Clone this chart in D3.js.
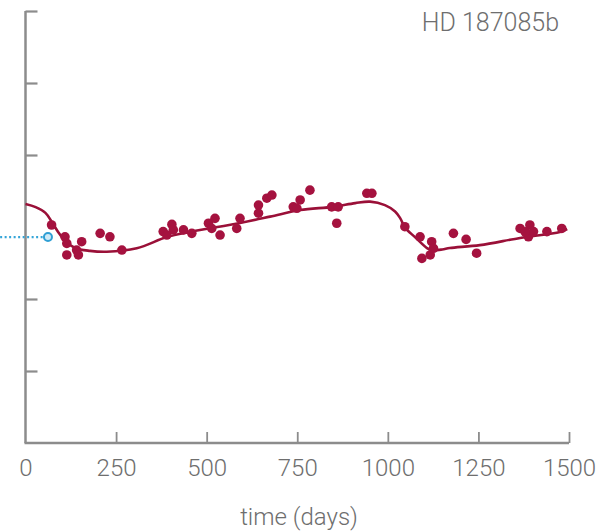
<!DOCTYPE html>
<html>
<head>
<meta charset="utf-8">
<script src="https://cdn.jsdelivr.net/npm/d3@7"></script>
<style>
  html, body { margin: 0; padding: 0; background: #fff; }
  svg { display: block; }
  text { font-family: Roboto, "Liberation Sans", Arial, sans-serif; font-weight: 300; fill: #6e6e6e; }
</style>
</head>
<body>
<svg id="chart" width="609" height="532"></svg>
<script>
// ---- data ----
const title = "HD 187085b";
const xLabel = "time (days)";
const xTicks = [0, 250, 500, 750, 1000, 1250, 1500];
const yTicks = [75, 50, 25, -25, -50];

// observed radial velocity points: day, velocity
const obsDays = [72,109,114,114,141,155,146,206,233,266,380,404,408,390,436,459,505,523,514,537,583,592,643,643,666,680,739,758,749,785,845,863,859,942,956,1047,1089,1121,1126,1094,1117,1181,1216,1245,1365,1392,1388,1402,1379,1439,1480];
const obsVel  = [0.7,-3.4,-5.7,-9.7,-8.0,-5.1,-9.7,-2.2,-3.4,-8.0,-1.6,0.9,-1.0,-2.8,-1.0,-2.2,1.3,3.0,-0.5,-2.8,-0.5,3.0,4.8,7.6,10.0,11.1,7.0,9.4,6.5,12.8,7.0,7.0,1.3,11.7,11.7,0.1,-3.4,-5.1,-7.4,-10.9,-9.7,-2.2,-4.3,-9.1,-0.5,0.7,-3.4,-1.6,-1.7,-1.6,-0.5];

// fitted orbit curve
const fitDays = [0,28,55,73,90,110,137,178,224,307,390,454,592,675,758,849,910,951,992,1020,1034,1048,1075,1108,1122,1150,1171,1254,1365,1475,1495];
const fitVel  = [8.0,6.9,4.9,1.7,-1.7,-4.9,-7.3,-8.3,-8.6,-7.4,-3.5,-1.7,1.4,3.6,5.9,7.0,8.3,8.8,7.6,5.4,3.1,-0.3,-3.5,-7.3,-8.0,-7.8,-7.3,-6.3,-3.8,-1.7,-0.7];

// marker for the starting point (cyan)
const markDays = [-70, 62];
const markVel = [-3.5, -3.5];

// ---- drawing ----
const svg = d3.select("#chart");
const x = d3.scaleLinear().domain([0, 1500]).range([25.5, 569]);
const y = d3.scaleLinear().domain([-75, 75]).range([443, 11]);

const axisColor = "#8c8c8c";

// left axis
const gy = svg.append("g").attr("transform", `translate(${x(0)},0)`)
  .call(d3.axisLeft(y).tickValues(yTicks).tickSizeInner(-12).tickSizeOuter(0).tickFormat(""));
gy.select(".domain").remove();
gy.selectAll(".tick line").attr("stroke", axisColor).attr("stroke-width", 2.2);
svg.append("line").attr("x1", x(0)).attr("x2", x(0)).attr("y1", y(75)).attr("y2", y(-75))
  .attr("stroke", axisColor).attr("stroke-width", 2.5);

// bottom axis
const gx = svg.append("g").attr("transform", `translate(0,${y(-75)})`)
  .call(d3.axisBottom(x).tickValues(xTicks).tickSizeInner(-11).tickSizeOuter(0).tickPadding(16).tickFormat(d3.format("d")));
gx.select(".domain").remove();
gx.selectAll(".tick line").attr("stroke", axisColor).attr("stroke-width", 1.8)
  .filter(d => d === 0).remove();
gx.selectAll(".tick text").attr("font-size", 24)
  .attr("font-family", "Roboto, Liberation Sans, Arial, sans-serif").attr("font-weight", 300).attr("fill", "#6e6e6e");
svg.append("line").attr("x1", x(0) - 1).attr("x2", x(1500)).attr("y1", y(-75)).attr("y2", y(-75))
  .attr("stroke", axisColor).attr("stroke-width", 2.5);

// fitted curve
const line = d3.line().x((d, i) => x(fitDays[i])).y((d, i) => y(fitVel[i])).curve(d3.curveCatmullRom.alpha(0.5));
svg.append("path").datum(fitDays).attr("d", line)
  .attr("fill", "none").attr("stroke", "#9a1038").attr("stroke-width", 2.6);

// cyan marker
svg.append("line")
  .attr("x1", x(markDays[0])).attr("x2", x(markDays[1]) - 4)
  .attr("y1", y(markVel[0])).attr("y2", y(markVel[1]))
  .attr("stroke", "#35a5d8").attr("stroke-width", 2.2).attr("stroke-dasharray", "2,2.5");
svg.append("circle").attr("cx", x(markDays[1])).attr("cy", y(markVel[1])).attr("r", 4)
  .attr("fill", "#cfeaf7").attr("stroke", "#2f9fd4").attr("stroke-width", 2);

// observations
svg.append("g").selectAll("circle").data(obsDays).join("circle")
  .attr("cx", (d, i) => x(obsDays[i])).attr("cy", (d, i) => y(obsVel[i]))
  .attr("r", 4.8).attr("fill", "#a5123f");

// title and axis label
svg.append("text").attr("x", 559).attr("y", 31).attr("text-anchor", "end")
  .attr("font-size", 25).text(title);
svg.append("text").attr("x", 299).attr("y", 525).attr("text-anchor", "middle")
  .attr("font-size", 24).text(xLabel);
</script>
</body>
</html>
